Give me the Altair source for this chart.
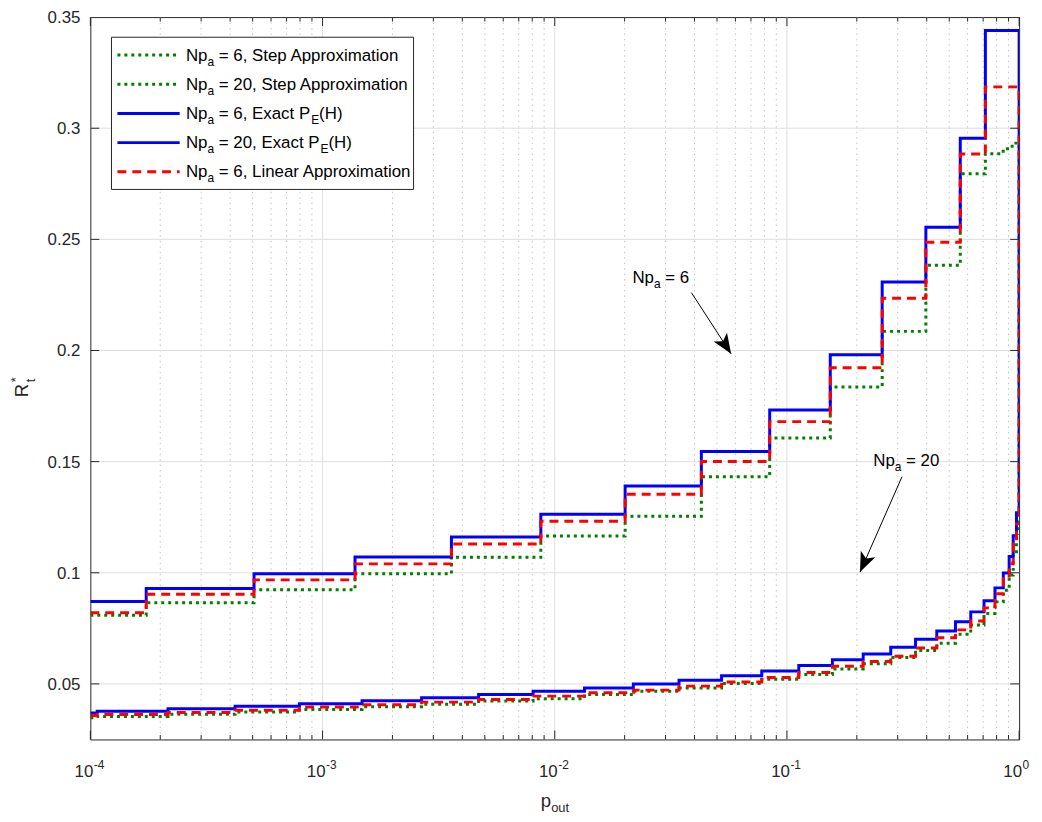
import altair as alt
import pandas as pd

FONT = "Liberation Sans"
DARK = "#262626"
BLUE, RED, GREEN = "#0000ff", "#ff0000", "#008000"
W, H = 936, 728

# ---------------- data ----------------
p_np6 = [1e-4, 1.74e-4, 5.07e-4, 1.38e-3, 3.59e-3, 8.71e-3, 0.0201, 0.0428,
         0.0843, 0.1537, 0.2572, 0.3966, 0.5579, 0.7157, 1.0]
exact_np6 = [0.0871, 0.0929, 0.0996, 0.1071, 0.1161, 0.1263, 0.1390, 0.1546,
             0.1732, 0.1981, 0.2308, 0.2555, 0.2955, 0.3440, 0.1270]
linear_np6 = [0.0820, 0.0903, 0.0968, 0.1040, 0.1129, 0.1232, 0.1353, 0.1501,
              0.1680, 0.1922, 0.2235, 0.2487, 0.2884, 0.3186, 0.1220]
p_np6_step = [1e-4, 1.74e-4, 5.07e-4, 1.38e-3, 3.59e-3, 8.71e-3, 0.0201, 0.0428,
              0.0843, 0.1537, 0.2572, 0.3966, 0.5579, 0.7157, 0.854, 0.933, 1.0]
step_np6 = [0.0809, 0.0865, 0.0924, 0.0996, 0.1070, 0.1165, 0.1254, 0.1432,
            0.1606, 0.1836, 0.2086, 0.2384, 0.2795, 0.2885, 0.2908, 0.2933, 0.1170]

p_np20 = [1e-4, 1.07e-4, 2.16e-4, 4.2e-4, 7.95e-4, 1.48e-3, 2.67e-3, 4.70e-3,
          8.07e-3, 0.01343, 0.0218, 0.0343, 0.0523, 0.0779, 0.1125, 0.157,
          0.213, 0.280, 0.358, 0.442, 0.532, 0.619, 0.706, 0.787, 0.855,
          0.906, 0.943, 0.974, 1.0]
exact_np20 = [0.0369, 0.0377, 0.0388, 0.0399, 0.0411, 0.0424, 0.0438, 0.0452,
              0.0467, 0.0482, 0.0500, 0.0516, 0.0537, 0.0558, 0.0583, 0.0609,
              0.0635, 0.0665, 0.0701, 0.0738, 0.0780, 0.0824, 0.0874, 0.0932,
              0.0999, 0.1073, 0.1167, 0.1270, 0.1270]
linear_np20 = [0.0358, 0.0362, 0.0371, 0.0381, 0.0396, 0.0406, 0.0418, 0.0430,
               0.0445, 0.0460, 0.0472, 0.0490, 0.0509, 0.0529, 0.0551, 0.0579,
               0.0601, 0.0624, 0.0661, 0.0708, 0.0743, 0.0783, 0.0842, 0.0906,
               0.0973, 0.1040, 0.1130, 0.1220, 0.1220]
step_np20 = [0.0348, 0.0353, 0.0363, 0.0374, 0.0385, 0.0397, 0.0408, 0.0423,
             0.0433, 0.0452, 0.0467, 0.0482, 0.0502, 0.0521, 0.0542, 0.0567,
             0.0591, 0.0619, 0.0650, 0.0683, 0.0723, 0.0765, 0.0817, 0.0869,
             0.0921, 0.0990, 0.1080, 0.1170, 0.1170]

y_ticks = [0.05, 0.1, 0.15, 0.2, 0.25, 0.3, 0.35]
y_tick_labels = ["0.05", "0.1", "0.15", "0.2", "0.25", "0.3", "0.35"]
x_decades = [1e-4, 1e-3, 1e-2, 1e-1, 1.0]
x_exponents = ["-4", "-3", "-2", "-1", "0"]

legend_rows = [
    [("Np", 0), ("a", 1), (" = 6, Step Approximation", 0)],
    [("Np", 0), ("a", 1), (" = 20, Step Approximation", 0)],
    [("Np", 0), ("a", 1), (" = 6, Exact P", 0), ("E", 1), ("(H)", 0)],
    [("Np", 0), ("a", 1), (" = 20, Exact P", 0), ("E", 1), ("(H)", 0)],
    [("Np", 0), ("a", 1), (" = 6, Linear Approximation", 0)],
]
legend_styles = [(GREEN, [3, 4]), (GREEN, [3, 4]), (BLUE, None), (BLUE, None), (RED, [9, 6])]

# annotations (data coordinates)
ann_text_p = [0.0216, 0.2353]
ann_text_R = [0.2305, 0.1479]
ann_text_rest = ["= 6", "= 20"]
arrow_p1 = [0.0388, 0.313]
arrow_R1 = [0.226, 0.1432]
arrow_p2 = [0.0575, 0.2065]
arrow_R2 = [0.1985, 0.1003]
head_p = [0.0545, 0.2148]
head_R = [0.2023, 0.1044]
head_angle = [147, 204]

# ---------------- helpers ----------------
_CW = {' ': 278, '(': 333, ')': 333, ',': 278, '.': 278, '=': 584, '-': 333,
       '*': 389, 'A': 667, 'E': 667, 'H': 722, 'L': 556, 'N': 722, 'P': 667,
       'S': 667, 'R': 722, 'a': 556, 'e': 556, 'i': 222, 'm': 833, 'n': 556,
       'o': 556, 'p': 556, 'r': 333, 't': 278, 'x': 500, 'u': 556}


def tw(s, fs):
    return sum(_CW.get(c, 556) for c in s) * fs / 1000.0


xs = alt.Scale(type="log", domain=[1e-4, 1.0], nice=False)
ys = alt.Scale(domain=[0.025, 0.35], nice=False, zero=False)
one = pd.DataFrame({"a": [0]})


def X(f="p"):
    return alt.X(f"{f}:Q", scale=xs, axis=None)


def Y(f="R"):
    return alt.Y(f"{f}:Q", scale=ys, axis=None)


def line_layer(p, r, color, dash=None):
    kw = dict(color=color, strokeWidth=3, interpolate="step-after", clip=True,
              strokeCap="butt", strokeJoin="miter")
    if dash:
        kw["strokeDash"] = dash
    return alt.Chart(pd.DataFrame({"p": p, "R": r})).mark_line(**kw).encode(x=X(), y=Y())


layers = []

# ---------------- grid ----------------
minor = [k * 10.0 ** e for e in range(-4, 0) for k in range(2, 10)]
layers.append(alt.Chart(pd.DataFrame({"p": minor})).mark_rule(
    color="#c4c4c4", strokeDash=[1.5, 4], strokeWidth=1).encode(
    x=X(), y=alt.value(0), y2=alt.value(H)))
layers.append(alt.Chart(pd.DataFrame({"p": x_decades[1:-1]})).mark_rule(
    color="#dedede", strokeWidth=1).encode(x=X(), y=alt.value(0), y2=alt.value(H)))
layers.append(alt.Chart(pd.DataFrame({"R": y_ticks[:-1]})).mark_rule(
    color="#dedede", strokeWidth=1).encode(y=Y(), x=alt.value(0), x2=alt.value(W)))

# ---------------- curves ----------------
layers.append(line_layer(p_np6_step, step_np6, GREEN, [3, 4]))
layers.append(line_layer(p_np20, step_np20, GREEN, [3, 4]))
layers.append(line_layer(p_np6, exact_np6, BLUE))
layers.append(line_layer(p_np20, exact_np20, BLUE))
layers.append(line_layer(p_np6, linear_np6, RED, [9, 6]))
layers.append(line_layer(p_np20, linear_np20, RED, [9, 6]))

# ---------------- ticks (inward, mirrored) ----------------
for vals, ln in ((x_decades, 9), (minor, 4.5)):
    d = pd.DataFrame({"p": vals})
    layers.append(alt.Chart(d).mark_rule(color=DARK, strokeWidth=1).encode(
        x=X(), y=alt.value(H), y2=alt.value(H - ln)))
    layers.append(alt.Chart(d).mark_rule(color=DARK, strokeWidth=1).encode(
        x=X(), y=alt.value(0), y2=alt.value(ln)))
dy = pd.DataFrame({"R": y_ticks[:-1]})
layers.append(alt.Chart(dy).mark_rule(color=DARK, strokeWidth=1).encode(
    y=Y(), x=alt.value(0), x2=alt.value(9)))
layers.append(alt.Chart(dy).mark_rule(color=DARK, strokeWidth=1).encode(
    y=Y(), x=alt.value(W - 9), x2=alt.value(W)))

# ---------------- y tick labels ----------------
yl = pd.DataFrame({"R": y_ticks, "t": y_tick_labels})
layers.append(alt.Chart(yl).mark_text(
    align="right", baseline="middle", font=FONT, fontSize=17, color=DARK, dy=1).encode(
    y=Y(), x=alt.value(-10), text="t:N"))

# ---------------- x tick labels ----------------
xl = pd.DataFrame({"p": x_decades, "e": x_exponents, "b": ["10"] * 5})
layers.append(alt.Chart(xl).mark_text(
    align="right", baseline="alphabetic", font=FONT, fontSize=17, color=DARK, dx=3).encode(
    x=X(), y=alt.value(H + 38), text="b:N"))
layers.append(alt.Chart(xl).mark_text(
    align="left", baseline="alphabetic", font=FONT, fontSize=12, color=DARK, dx=3.5).encode(
    x=X(), y=alt.value(H + 30), text="e:N"))

# ---------------- axis titles ----------------
xt = pd.DataFrame({"x": [454, 454 + tw("p", 18.7)], "y": [796, 801],
                   "t": ["p", "out"], "fs": [18.7, 13]})
layers.append(alt.Chart(xt).mark_text(align="left", baseline="alphabetic", font=FONT, color=DARK).encode(
    x=alt.X("x:Q", scale=None, axis=None), y=alt.Y("y:Q", scale=None, axis=None),
    text="t:N", size=alt.Size("fs:Q", scale=None)))
yt = pd.DataFrame({"x": [-62.7, -56, -71], "y": [383, 368, 368],
                   "t": ["R", "t", "*"], "fs": [18.7, 13, 13]})
layers.append(alt.Chart(yt).mark_text(align="left", baseline="alphabetic", font=FONT, color=DARK, angle=270).encode(
    x=alt.X("x:Q", scale=None, axis=None), y=alt.Y("y:Q", scale=None, axis=None),
    text="t:N", size=alt.Size("fs:Q", scale=None)))

# ---------------- annotations ----------------
arr = pd.DataFrame({"p1": arrow_p1, "R1": arrow_R1, "p2": arrow_p2, "R2": arrow_R2})
layers.append(alt.Chart(arr).mark_rule(color="black", strokeWidth=1).encode(
    x=X("p1"), y=Y("R1"), x2="p2:Q", y2="R2:Q"))
heads = pd.DataFrame({"p": head_p, "R": head_R, "ang": head_angle})
layers.append(alt.Chart(heads).mark_point(
    shape="M0,-1 L0.8,1 L0,0.5 L-0.8,1 Z", filled=True, size=400, color="black", opacity=1).encode(
    x=X(), y=Y(), angle=alt.Angle("ang:Q", scale=None)))
at = pd.DataFrame({"p": ann_text_p, "R": ann_text_R, "r": ann_text_rest})
layers.append(alt.Chart(at).mark_text(align="left", baseline="alphabetic", font=FONT, fontSize=17, color="black").encode(
    x=X(), y=Y(), text=alt.value("Np")))
layers.append(alt.Chart(at).mark_text(align="left", baseline="alphabetic", font=FONT, fontSize=12, color="black",
                                      dx=tw("Np", 17), dy=5).encode(x=X(), y=Y(), text=alt.value("a")))
layers.append(alt.Chart(at).mark_text(align="left", baseline="alphabetic", font=FONT, fontSize=17, color="black",
                                      dx=tw("Np", 17) + tw("a", 12) + tw(" ", 17)).encode(x=X(), y=Y(), text="r:N"))

# ---------------- legend ----------------
LX0, LX1, LY0, LY1 = 21.3, 325.7, 20.3, 173.7
layers.append(alt.Chart(one).mark_rect(fill="white", stroke=DARK, strokeWidth=1).encode(
    x=alt.value(LX0), x2=alt.value(LX1), y=alt.value(LY0), y2=alt.value(LY1)))
segs = []
for i, (parts, (col, dash)) in enumerate(zip(legend_rows, legend_styles)):
    ry = 38.3 + 29.4 * i
    kw = dict(color=col, strokeWidth=3, strokeCap="butt")
    if dash:
        kw["strokeDash"] = dash
    layers.append(alt.Chart(one).mark_rule(**kw).encode(
        x=alt.value(27.3), x2=alt.value(90), y=alt.value(ry)))
    x = 96.3
    for text, sub in parts:
        fs = 12 if sub else 17
        lead = len(text) - len(text.lstrip(" "))
        x += lead * tw(" ", fs)
        t = text.strip(" ")
        segs.append({"x": x, "y": ry + (10.5 if sub else 5.5), "t": t, "fs": fs})
        x += tw(t, fs)
layers.append(alt.Chart(pd.DataFrame(segs)).mark_text(align="left", baseline="alphabetic", font=FONT, color="black").encode(
    x=alt.X("x:Q", scale=None, axis=None), y=alt.Y("y:Q", scale=None, axis=None),
    text="t:N", size=alt.Size("fs:Q", scale=None)))

chart = alt.layer(*layers).properties(
    width=W, height=H, autosize="none", background="white",
    padding={"left": 83, "top": 6, "right": 15, "bottom": 78},
).configure_view(stroke=DARK, strokeWidth=1)

chart.save("out.html", embed_options={"renderer": "svg", "actions": False})
